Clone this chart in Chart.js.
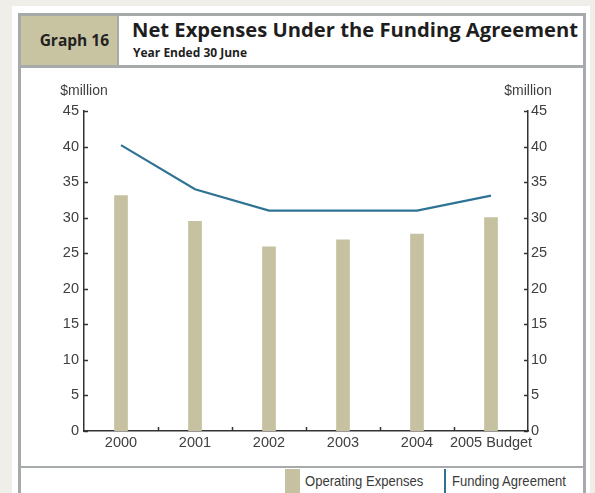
<!DOCTYPE html>
<html>
<head>
<meta charset="utf-8">
<script src="https://cdn.jsdelivr.net/npm/chart.js@4.4.0/dist/chart.umd.min.js"></script>
<style>
  html, body { margin: 0; padding: 0; }
  body { width: 595px; height: 493px; background: #efeee9; position: relative; overflow: hidden; font-family: "Liberation Sans", Arial, sans-serif; }
  .panel { position: absolute; left: 12px; top: 6px; width: 578px; height: 500px; background: #fff; }
  .frame { position: absolute; left: 18px; top: 13px; width: 562px; height: 490px; border: 3px solid #a7aaaa; border-bottom: none; }
  .head-num { position: absolute; left: 21px; top: 16px; width: 96px; height: 49px; background: #c8c3a1; border-right: 2px solid #a7aaaa; }
  .head-num span { position: absolute; right: 8px; top: 13px; font: bold 15.5px "Open Sans", sans-serif; color: #222; }
  .head-line { position: absolute; left: 21px; top: 65px; width: 562px; height: 3px; background: #a7aaaa; }
  .title { position: absolute; left: 132px; top: 15px; font: bold 20.2px "Open Sans", sans-serif; color: #1e1e1e; white-space: nowrap; }
  .subtitle { position: absolute; left: 133px; top: 44px; font: bold 12px "Open Sans", sans-serif; color: #1e1e1e; white-space: nowrap; }
  .foot-line { position: absolute; left: 21px; top: 466px; width: 562px; height: 2px; background: #a7aaaa; }
  #chartBox { position: absolute; left: 20px; top: 76px; width: 563px; height: 390px; }
  .legend { position: absolute; top: 468px; height: 25px; font-size: 15px; color: #3a3a3a; white-space: nowrap; }
  .legend .swatch { position: absolute; left: 0; top: 1px; width: 15px; height: 30px; }
  .legend .txt { position: absolute; top: 4px; transform: scaleX(0.87); transform-origin: left center; }
</style>
</head>
<body>
<div class="panel"></div>
<div class="frame"></div>
<div class="head-num"><span>Graph 16</span></div>
<div class="head-line"></div>
<div class="title">Net Expenses Under the Funding Agreement</div>
<div class="subtitle">Year Ended 30 June</div>
<div id="chartBox"><canvas id="expChart" width="563" height="390"></canvas></div>
<div class="foot-line"></div>
<div id="legend"></div>

<script>
// dati del grafico ($million)
var years = ['2000', '2001', '2002', '2003', '2004', '2005 Budget'];
var operatingExpenses = [33.1, 29.5, 25.9, 26.9, 27.7, 30.0];
var fundingAgreement = [40.2, 34.0, 31.0, 31.0, 31.0, 33.1];
var yTicks = [0, 5, 10, 15, 20, 25, 30, 35, 40, 45];
var unitLabel = '$million';

var barColor = '#c6c1a1';
var lineColor = '#2f7394';
var axisColor = '#333333';
var textColor = '#404040';
var tickFont = { family: '"Liberation Sans", Arial, sans-serif', size: 14.5 };

// tacche interne agli assi e la scritta $million sopra gli assi y
var axisMarks = {
  id: 'axisMarks',
  afterDraw: function(chart) {
    var ctx = chart.ctx;
    var x = chart.scales.x;
    var yl = chart.scales.y;
    var yr = chart.scales.y2;
    ctx.save();
    ctx.strokeStyle = axisColor;
    ctx.lineWidth = 1.5;
    ctx.beginPath();
    yTicks.forEach(function(v) {
      var py = Math.round(yl.getPixelForValue(v)) + 0.5;
      ctx.moveTo(yl.right, py);
      ctx.lineTo(yl.right + 4, py);
      ctx.moveTo(yr.left, py);
      ctx.lineTo(yr.left - 4, py);
    });
    var step = (x.right - x.left) / years.length;
    for (var i = 1; i < years.length; i++) {
      var px = Math.round(x.left + step * i) + 0.5;
      ctx.moveTo(px, x.top);
      ctx.lineTo(px, x.top - 4);
    }
    ctx.stroke();

    ctx.fillStyle = textColor;
    ctx.font = '14px ' + tickFont.family;
    ctx.textAlign = 'center';
    ctx.textBaseline = 'middle';
    ctx.fillText(unitLabel, yl.right, yl.top - 20);
    ctx.fillText(unitLabel, yr.left, yr.top - 20);
    ctx.restore();
  }
};

function yAxis(pos) {
  return {
    type: 'linear',
    position: pos,
    min: 0,
    max: 45,
    afterBuildTicks: function(scale) {
      scale.ticks = yTicks.map(function(v) { return { value: v }; });
    },
    afterFit: function(scale) {
      scale.width = pos === 'left' ? 64 : 55;
    },
    grid: { display: false, drawTicks: false },
    border: { display: true, color: axisColor, width: 1.5 },
    ticks: { color: textColor, font: tickFont, padding: pos === 'left' ? 5 : 3 }
  };
}

function printChart() {
  var ctx = document.getElementById('expChart').getContext('2d');
  var myChart = new Chart(ctx, {
    data: {
      labels: years,
      datasets: [{
        type: 'line',
        label: 'Funding Agreement',
        data: fundingAgreement,
        borderColor: lineColor,
        borderWidth: 2.2,
        pointRadius: 0,
        tension: 0,
        yAxisID: 'y'
      }, {
        type: 'bar',
        label: 'Operating Expenses',
        data: operatingExpenses,
        backgroundColor: barColor,
        barThickness: 13,
        yAxisID: 'y'
      }]
    },
    options: {
      responsive: false,
      animation: false,
      layout: { padding: { top: 35, left: 0, right: 0, bottom: 0 } },
      plugins: { legend: { display: false }, tooltip: { enabled: false } },
      scales: {
        x: {
          offset: true,
          afterFit: function(scale) { scale.height = 35; },
          grid: { display: false, drawTicks: false, offset: true },
          border: { display: true, color: axisColor, width: 1.5 },
          ticks: { color: textColor, font: tickFont, padding: 3, maxRotation: 0, autoSkip: false }
        },
        y: yAxis('left'),
        y2: yAxis('right')
      }
    },
    plugins: [axisMarks]
  });
  printLegend(myChart);
}

// legenda in basso, costruita dai dataset
function printLegend(chart) {
  var box = document.getElementById('legend');
  var items = [
    { ds: chart.data.datasets[1], left: 285, txt: 20, w: 15 },
    { ds: chart.data.datasets[0], left: 444, txt: 8, w: 2 }
  ];
  items.forEach(function(it) {
    var div = document.createElement('div');
    div.className = 'legend';
    div.style.left = it.left + 'px';
    var sw = document.createElement('div');
    sw.className = 'swatch';
    sw.style.width = it.w + 'px';
    sw.style.background = it.ds.type === 'bar' ? it.ds.backgroundColor : it.ds.borderColor;
    var t = document.createElement('span');
    t.className = 'txt';
    t.style.left = it.txt + 'px';
    t.textContent = it.ds.label;
    div.appendChild(sw);
    div.appendChild(t);
    box.appendChild(div);
  });
}

printChart();
</script>
</body>
</html>
